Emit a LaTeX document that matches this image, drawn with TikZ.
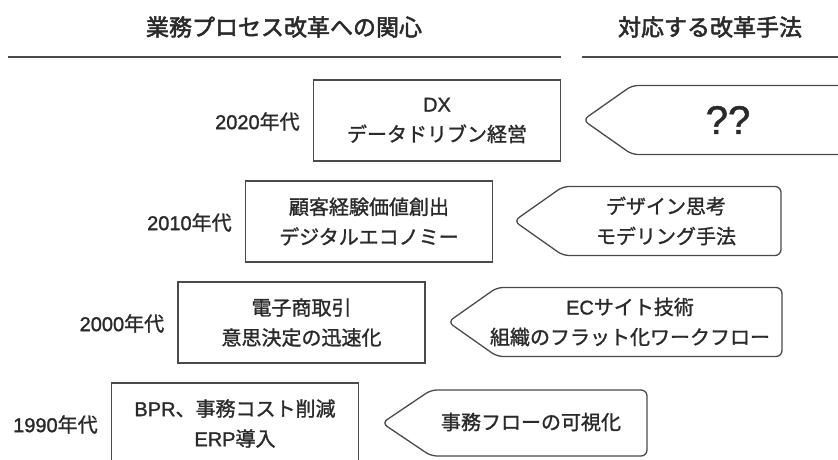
\documentclass[tikz,border=0pt]{standalone}
\usepackage{fontspec}
\setmainfont[FakeBold=1.3]{Noto Sans CJK JP}
\newfontfamily\hdrfont[FakeBold=2.2]{Noto Sans CJK JP}
\newfontfamily\lat[FakeBold=1.3]{Liberation Sans}
\definecolor{ink}{HTML}{2A2A2A}
\definecolor{edge}{HTML}{4A4A4A}
\tikzset{
  box/.style={draw=edge, line width=1.3pt, minimum width=247pt, minimum height=81pt,
    inner sep=0pt, text=ink, align=center, font=\fontsize{20pt}{30pt}\selectfont},
  yr/.style={anchor=east, text=ink, font=\fontsize{20pt}{24pt}\selectfont, inner sep=0pt},
  pent/.style={draw=edge, line width=1.3pt, rounded corners=6pt},
  ptext/.style={text=ink, align=center, font=\fontsize{20pt}{30pt}\selectfont, inner sep=0pt},
  head/.style={text=ink, font=\hdrfont\fontsize{23pt}{28pt}\selectfont, inner sep=0pt},
  hrule/.style={draw=edge, line width=1.6pt}
}
\begin{document}
\begin{tikzpicture}[x=1pt,y=-1pt]
\useasboundingbox (0,0) rectangle (838,459);
\clip (0,0) rectangle (838,459);
\fill[white] (0,0) rectangle (838,459);

% headers
\node[head] (h1) at (284,27) {業務プロセス改革への関心};
\node[head] (h2) at (710,27) {対応する改革手法};
\coordinate (l1a) at (8,57);
\coordinate (l1b) at (561,57);
\coordinate (l2a) at (582,57);
\coordinate (l2b) at (845,57);
\draw[hrule] (l1a) -- (l1b);
\draw[hrule] (l2a) -- (l2b);

% boxes
\node[box] (b2020) at (437,120.5) {{\lat DX}\\データドリブン経営};
\node[box] (b2010) at (369,221.5) {顧客経験価値創出\\デジタルエコノミー};
\node[box] (b2000) at (301.5,322.5) {電子商取引\\意思決定の迅速化};
\node[box] (b1990) at (235,423.5) {{\lat BPR}、事務コスト削減\\{\lat ERP}導入};

% year labels
\node[yr] (y2020) at ([xshift=-13pt,yshift=-1pt]b2020.west) {{\lat 2020}年代};
\node[yr] (y2010) at ([xshift=-13pt,yshift=-1pt]b2010.west) {{\lat 2010}年代};
\node[yr] (y2000) at ([xshift=-13pt,yshift=-1pt]b2000.west) {{\lat 2000}年代};
\node[yr] (y1990) at ([xshift=-13pt,yshift=-1pt]b1990.west) {{\lat 1990}年代};

% pentagons
\draw[pent] (583,120) -- (632,85.5) -- (870,85.5) -- (870,154.5) -- (632,154.5) -- cycle;
\draw[pent] (514,221) -- (563,186.5) -- (781,186.5) -- (781,255.5) -- (563,255.5) -- cycle;
\draw[pent] (448,322) -- (497,287.5) -- (782,287.5) -- (782,356.5) -- (497,356.5) -- cycle;
\draw[pent] (382,423) -- (431,390) -- (647,390) -- (647,456) -- (431,456) -- cycle;

% pentagon texts
\node[ptext, font=\lat\fontsize{40pt}{44pt}\selectfont] (m2020) at (728,120) {??};
\node[ptext] (m2010) at (666,221) {デザイン思考\\モデリング手法};
\node[ptext] (m2000) at (630,322) {{\lat EC}サイト技術\\組織のフラット化ワークフロー};
\node[ptext] (m1990) at (531,422) {事務フローの可視化};
\end{tikzpicture}
\end{document}
